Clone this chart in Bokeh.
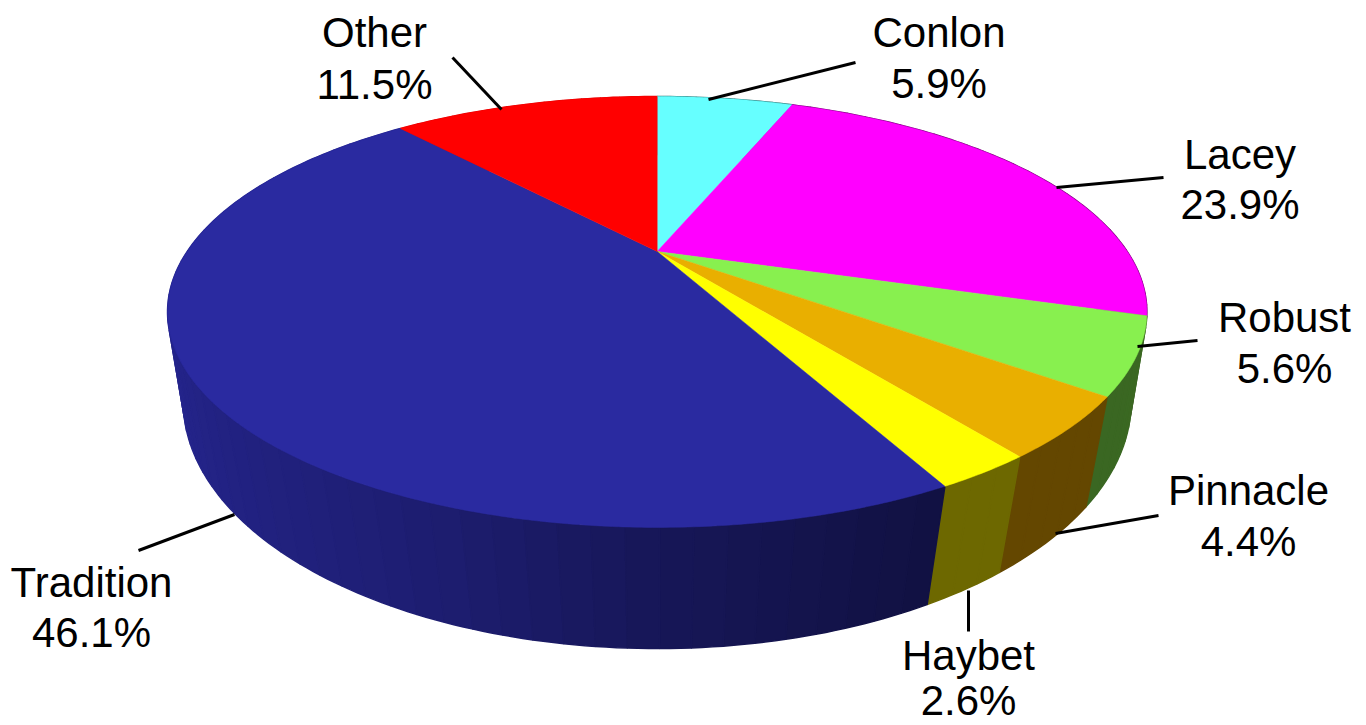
import numpy as np
from bokeh.plotting import figure
from bokeh.models import Range1d, ColumnDataSource
from bokeh.core.properties import value
from bokeh.embed import file_html
from bokeh.resources import INLINE

# ---- data, clockwise from 12 o'clock
categories = ["Conlon", "Lacey", "Robust", "Pinnacle", "Haybet", "Tradition", "Other"]
shares = [5.9, 23.9, 5.6, 4.4, 2.6, 46.1, 11.5]
colors = ["#66FFFF", "#FF00FF", "#88F04F", "#E9AF00", "#FFFF00", "#2A2AA0", "#FF0000"]

# ---- perspective of the disc (page pixels)
CX = 656.7
TOP = dict(a=470.0, b=0.2806, c=198.5, y0=251.0)
BOT = dict(a=459.5, b=0.245, c=232.2, y0=340.5)


def project(theta_deg, k):
    t = np.radians(theta_deg)
    u, v = np.sin(t), np.cos(t)
    w = 1 + k["b"] * v
    return CX + k["a"] * u / w, k["y0"] - k["c"] * v / w


def shade(theta):
    return float(np.interp(theta % 360, [100, 155, 180, 200, 215, 250, 280],
                           [0.44, 0.42, 0.55, 0.70, 0.77, 0.88, 0.90]))


def scaled(hex_color, f):
    r, g, b = (int(hex_color[i:i + 2], 16) for i in (1, 3, 5))
    if hex_color in ("#FFFF00", "#E9AF00"):
        return "#%02x%02x%02x" % (int(r * 0.43), int(g * 0.41), 0)
    return "#%02x%02x%02x" % (int(r * f), int(g * f), int(b * f))


W, H = 1366, 725
p = figure(width=W, height=H, x_range=Range1d(0, W), y_range=Range1d(H, 0),
           output_backend="svg", toolbar_location=None, min_border=0, outline_line_color=None)
p.axis.visible = False
p.grid.visible = False
p.background_fill_color = "white"
p.border_fill_color = "white"

edges = np.concatenate([[0], np.cumsum(shares)]) * 360.0 / sum(shares)

# side wall as narrow facets, back to front
facets = []
BAND = 3.0
for i, color in enumerate(colors):
    a0, a1 = edges[i], edges[i + 1]
    n = max(1, int(round((a1 - a0) / BAND)))
    cuts = np.linspace(a0, a1, n + 1)
    for s, e in zip(cuts[:-1], cuts[1:]):
        ts = np.linspace(s, e, 4)
        tx, ty = project(ts, TOP)
        bx, by = project(ts[::-1], BOT)
        mid = (s + e) / 2
        facets.append((np.cos(np.radians(mid)),
                       list(tx) + list(bx), list(ty) + list(by), scaled(color, shade(mid))))
facets.sort(key=lambda f: -f[0])
p.patches([f[1] for f in facets], [f[2] for f in facets],
          fill_color=[f[3] for f in facets], line_color=[f[3] for f in facets], line_width=1.5)

# top surface
xs, ys = [], []
for i in range(len(shares)):
    ts = np.linspace(edges[i], edges[i + 1], max(4, int(edges[i + 1] - edges[i]) * 2))
    rx, ry = project(ts, TOP)
    xs.append([CX] + list(rx))
    ys.append([TOP["y0"]] + list(ry))
p.patches(xs, ys, fill_color=colors, line_color=colors, line_width=0.5)

# ---- label layout
TEXT_SHIFT = -16
label_x = [938.5, 1239.5, 1284, 1248, 968, 91, 374]
name_base = [48, 170, 333, 506, 671, 598, 48]
pct_base = [99, 220, 384, 557, 716, 648, 100]
lead_x = [[708, 855], [1056, 1163], [1137, 1197], [1055, 1158], [968, 968], [234, 138], [501, 452]]
lead_y = [[99, 62], [187, 177], [346, 340], [533, 515], [590, 631], [514, 550], [109, 57]]

p.multi_line(lead_x, lead_y, line_color="black", line_width=3)

pct_text = ["%.1f%%" % s for s in shares]
text_y = [y + TEXT_SHIFT for y in name_base + pct_base]
src = ColumnDataSource(dict(x=label_x + label_x, y=text_y, t=categories + pct_text))
p.text("x", "y", text="t", source=src, text_align="center", text_baseline="alphabetic",
       text_font=value("Liberation Sans"), text_font_size="42px", text_color="black")

open("out.html", "w").write(file_html(p, INLINE))
